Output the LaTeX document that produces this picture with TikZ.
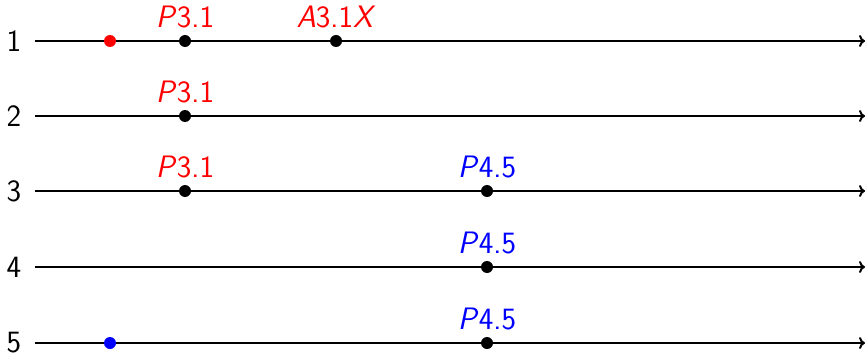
\documentclass[tikz,border=0pt]{standalone}
\usepackage{fontspec}
\usetikzlibrary{arrows.meta}

\begin{document}
\begin{tikzpicture}[
    x=0.5pt, y=-0.5pt,
    font=\sffamily\fontsize{15.5}{18}\selectfont,
    axis/.style={-{To[length=3pt, width=6pt]}, line width=1pt},
    num/.style={inner xsep=6.6pt, inner ysep=0pt},
    dot/.style={circle, fill=black, inner sep=0pt, minimum size=6pt},
    tag/.style={inner sep=0pt, label distance=3pt},
  ]
    \useasboundingbox (0,0) rectangle (866,353);
    \foreach \i/\y in {1/41, 2/116, 3/191, 4/267, 5/343} {
      \node[num] (num\i) at (14,\y) {\i};
      \coordinate (end\i) at (865,\y);
      \draw[axis] (num\i) -- (end\i);
    }
    % line 1
    \node[dot, fill=red] (start1) at (110,41) {};
    \node[dot, label={[tag, red]90:\textit{P}3.1}] (p31a) at (185,41) {};
    \node[dot, label={[tag, red]90:\textit{A}3.1\textit{X}}] (a31x) at (336,41) {};
    % line 2
    \node[dot, label={[tag, red]90:\textit{P}3.1}] (p31b) at (185,116) {};
    % line 3
    \node[dot, label={[tag, red]90:\textit{P}3.1}] (p31c) at (185,191) {};
    \node[dot, label={[tag, blue]90:\textit{P}4.5}] (p45a) at (487,191) {};
    % line 4
    \node[dot, label={[tag, blue]90:\textit{P}4.5}] (p45b) at (487,267) {};
    % line 5
    \node[dot, fill=blue] (start5) at (110,343) {};
    \node[dot, label={[tag, blue]90:\textit{P}4.5}] (p45c) at (487,343) {};
  \end{tikzpicture}
\end{document}
